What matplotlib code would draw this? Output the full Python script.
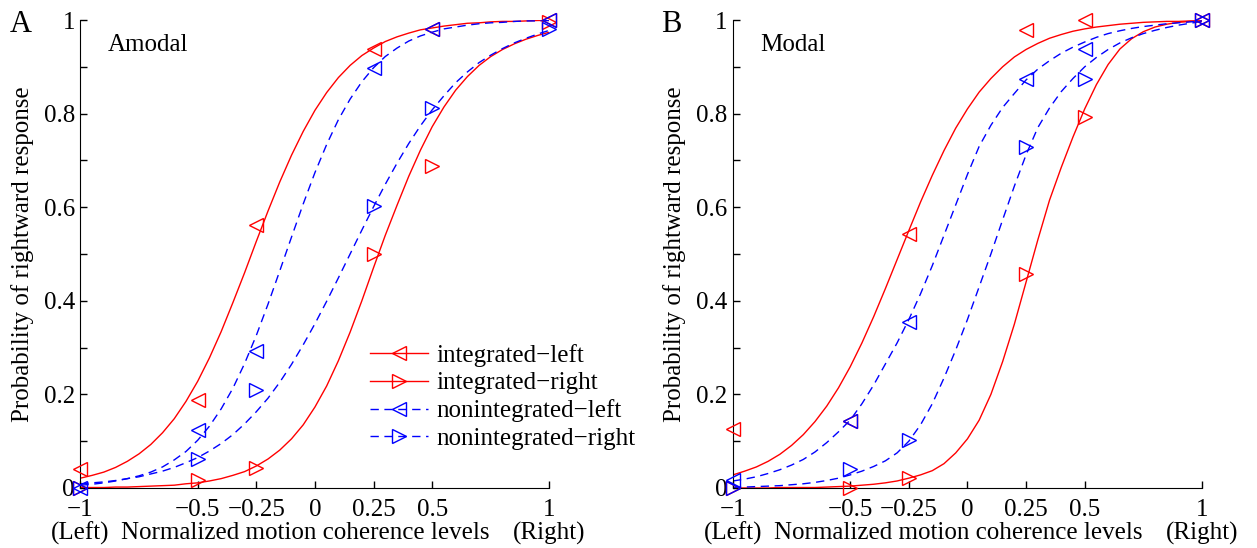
import numpy as np
import matplotlib
matplotlib.use('Agg')
import matplotlib.pyplot as plt
from matplotlib.lines import Line2D

plt.rcParams['font.family'] = ['Liberation Serif', 'DejaVu Serif']
plt.rcParams['font.size'] = 18

# coherence levels where responses were measured
levels = [-1, -0.5, -0.25, 0.25, 0.5, 1]

# measured proportions (markers)
A_int_left = [0.04, 0.188, 0.562, 0.937, 0.98, 1.0]
A_int_right = [0.0, 0.018, 0.043, 0.50, 0.688, 0.995]
A_non_left = [0.0, 0.123, 0.292, 0.897, 0.98, 1.0]
A_non_right = [0.0, 0.061, 0.209, 0.603, 0.812, 0.98]

B_int_left = [0.125, 0.143, 0.543, 0.979, 1.0, 1.0]
B_int_right = [0.0, 0.0, 0.021, 0.458, 0.792, 1.0]
B_non_left = [0.017, 0.143, 0.355, 0.874, 0.937, 1.0]
B_non_right = [0.0, 0.041, 0.103, 0.728, 0.874, 1.0]

# fitted psychometric curves, every 0.05
fit_x = [-1.00, -0.95, -0.90, -0.85, -0.80, -0.75, -0.70, -0.65, -0.60, -0.55,
         -0.50, -0.45, -0.40, -0.35, -0.30, -0.25, -0.20, -0.15, -0.10, -0.05,
         0.00, 0.05, 0.10, 0.15, 0.20, 0.25, 0.30, 0.35, 0.40, 0.45,
         0.50, 0.55, 0.60, 0.65, 0.70, 0.75, 0.80, 0.85, 0.90, 0.95,
         1.00]
A_fit_int_left = [0.021, 0.027, 0.034, 0.044, 0.057, 0.073, 0.093, 0.118, 0.148, 0.185,
                  0.228, 0.278, 0.334, 0.396, 0.460, 0.527, 0.592, 0.654, 0.711, 0.762,
                  0.807, 0.845, 0.877, 0.903, 0.924, 0.940, 0.954, 0.964, 0.972, 0.979,
                  0.983, 0.987, 0.990, 0.993, 0.994, 0.996, 0.997, 0.997, 0.998, 0.999,
                  0.999]
A_fit_int_right = [0.001, 0.001, 0.001, 0.002, 0.002, 0.003, 0.004, 0.005, 0.006, 0.009,
                   0.011, 0.015, 0.020, 0.027, 0.035, 0.047, 0.062, 0.081, 0.105, 0.135,
                   0.173, 0.218, 0.272, 0.333, 0.400, 0.471, 0.540, 0.604, 0.666, 0.722,
                   0.772, 0.814, 0.850, 0.879, 0.903, 0.922, 0.937, 0.949, 0.959, 0.967,
                   0.974]
A_fit_non_left = [0.006, 0.008, 0.011, 0.015, 0.020, 0.026, 0.034, 0.045, 0.060, 0.078,
                  0.102, 0.132, 0.169, 0.213, 0.266, 0.326, 0.393, 0.464, 0.536, 0.607,
                  0.674, 0.734, 0.787, 0.831, 0.868, 0.898, 0.922, 0.940, 0.955, 0.966,
                  0.974, 0.981, 0.985, 0.989, 0.992, 0.994, 0.995, 0.997, 0.998, 0.998,
                  0.999]
A_fit_non_right = [0.009, 0.011, 0.013, 0.016, 0.020, 0.024, 0.030, 0.036, 0.044, 0.054,
                   0.065, 0.079, 0.095, 0.114, 0.137, 0.163, 0.192, 0.226, 0.264, 0.306,
                   0.351, 0.399, 0.449, 0.500, 0.551, 0.601, 0.649, 0.694, 0.736, 0.774,
                   0.808, 0.838, 0.866, 0.889, 0.909, 0.925, 0.939, 0.951, 0.961, 0.970,
                   0.978]

B_fit_int_left = [0.028, 0.036, 0.045, 0.057, 0.072, 0.091, 0.114, 0.142, 0.175, 0.214,
                  0.259, 0.310, 0.366, 0.426, 0.488, 0.550, 0.611, 0.668, 0.721, 0.769,
                  0.810, 0.846, 0.875, 0.900, 0.921, 0.937, 0.950, 0.961, 0.969, 0.976,
                  0.981, 0.985, 0.988, 0.991, 0.993, 0.995, 0.996, 0.997, 0.997, 0.998,
                  0.998]
B_fit_int_right = [0.000, 0.000, 0.000, 0.000, 0.001, 0.001, 0.001, 0.001, 0.002, 0.003,
                   0.004, 0.006, 0.008, 0.011, 0.015, 0.021, 0.028, 0.037, 0.052, 0.075,
                   0.105, 0.145, 0.200, 0.270, 0.350, 0.440, 0.530, 0.615, 0.685, 0.750,
                   0.810, 0.862, 0.905, 0.938, 0.960, 0.975, 0.985, 0.991, 0.995, 0.997,
                   0.998]
B_fit_non_left = [0.015, 0.019, 0.024, 0.031, 0.039, 0.049, 0.061, 0.077, 0.097, 0.120,
                  0.145, 0.180, 0.220, 0.265, 0.310, 0.360, 0.415, 0.475, 0.540, 0.605,
                  0.670, 0.730, 0.775, 0.813, 0.843, 0.872, 0.895, 0.913, 0.929, 0.942,
                  0.953, 0.963, 0.971, 0.977, 0.982, 0.986, 0.989, 0.992, 0.994, 0.996,
                  0.998]
B_fit_non_right = [0.001, 0.002, 0.003, 0.004, 0.005, 0.007, 0.009, 0.012, 0.016, 0.021,
                   0.028, 0.036, 0.046, 0.058, 0.075, 0.100, 0.135, 0.180, 0.235, 0.295,
                   0.360, 0.430, 0.500, 0.573, 0.645, 0.712, 0.770, 0.812, 0.847, 0.875,
                   0.900, 0.920, 0.937, 0.951, 0.962, 0.971, 0.978, 0.984, 0.989, 0.993,
                   0.997]

xtick_vals = [-1, -0.5, -0.25, 0, 0.25, 0.5, 1]
xtick_labels = ['\u22121\n(Left)', '\u22120.5', '\u22120.25', '0', '0.25', '0.5', '1\n(Right)']
ytick_vals = [0, 0.1, 0.2, 0.3, 0.4, 0.5, 0.6, 0.7, 0.8, 0.9, 1.0]
ytick_labels = ['0', '', '0.2', '', '0.4', '', '0.6', '', '0.8', '', '1']

series_names = ['integrated\u2212left', 'integrated\u2212right',
                'nonintegrated\u2212left', 'nonintegrated\u2212right']

RED = '#ff0000'
BLUE = '#0000ff'
styles = [(RED, '-', '<'), (RED, '-', '>'), (BLUE, '--', '<'), (BLUE, '--', '>')]
DASH = (6, 4)
MS = 10


def draw_panel(ax, marks, fits, title):
    for (col, ls, mk), m, f in zip(styles, marks, fits):
        line, = ax.plot(fit_x, f, color=col, lw=1.0, ls=ls)
        if ls == '--':
            line.set_dashes(DASH)
        ax.plot(levels, m, ls='none', marker=mk, ms=MS, mfc='none', mec=col,
                mew=1.0, clip_on=False, zorder=3)
    ax.set_xlim(-1, 1)
    ax.set_ylim(0, 1)
    ax.spines['top'].set_visible(False)
    ax.spines['right'].set_visible(False)
    ax.set_xticks(xtick_vals)
    ax.set_xticklabels(xtick_labels, linespacing=1.05)
    ax.set_yticks(ytick_vals)
    ax.set_yticklabels(ytick_labels)
    ax.tick_params(direction='in', length=5, width=1)
    ax.tick_params(axis='x', pad=8)
    ax.tick_params(axis='y', pad=4)
    ax.set_ylabel('Probability of rightward response')
    ax.yaxis.set_label_coords(-0.1, 0.5)
    ax.text(-0.04, -0.097, 'Normalized motion coherence levels',
            transform=ax.get_xaxis_transform(), ha='center', va='center')
    ax.text(-0.885, 0.947, title, ha='left', va='center')


fig = plt.figure(figsize=(12.57, 5.48), dpi=100)
axA = fig.add_axes([0.064, 0.1095, 0.3731, 0.854])
axB = fig.add_axes([0.5831, 0.1095, 0.3731, 0.854])

draw_panel(axA, [A_int_left, A_int_right, A_non_left, A_non_right],
           [A_fit_int_left, A_fit_int_right, A_fit_non_left, A_fit_non_right], 'Amodal')
draw_panel(axB, [B_int_left, B_int_right, B_non_left, B_non_right],
           [B_fit_int_left, B_fit_int_right, B_fit_non_left, B_fit_non_right], 'Modal')

# legend with line + marker combined
handles = []
for col, ls, mk in styles:
    h = Line2D([], [], color=col, ls=ls, lw=1.0, marker=mk, ms=MS, mfc='none', mec=col)
    if ls == '--':
        h.set_dashes(DASH)
    handles.append(h)
axA.legend(handles, series_names, loc='upper left', bbox_to_anchor=(0.618, 0.308),
           frameon=False, borderaxespad=0, borderpad=0, handlelength=2.3,
           handletextpad=0.35, labelspacing=0.2, numpoints=1)

fig.text(0.0167, 0.956, 'A', fontsize=22, ha='center', va='center')
fig.text(0.534, 0.956, 'B', fontsize=22, ha='center', va='center')

fig.savefig('out.png', dpi=100)
